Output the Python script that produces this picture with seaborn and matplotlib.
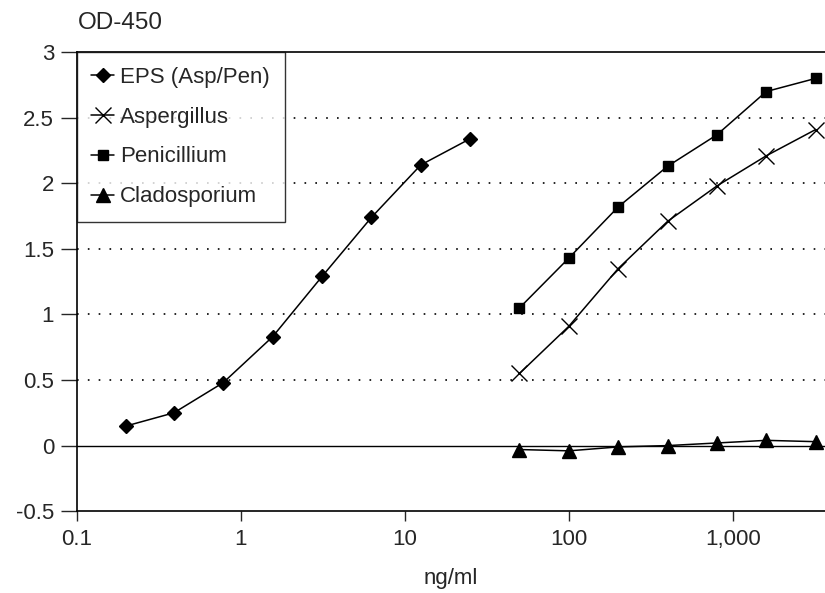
import numpy as np
import pandas as pd
import matplotlib
matplotlib.use('Agg')
import matplotlib.pyplot as plt
import seaborn as sns

# 数据 (OD-450 读数)
eps_conc = [0.2, 0.39, 0.78, 1.56, 3.125, 6.25, 12.5, 25]
eps_od = [0.15, 0.25, 0.48, 0.83, 1.29, 1.74, 2.14, 2.34]

fungi_conc = [50, 100, 200, 400, 800, 1600, 3200]
asp_od = [0.55, 0.91, 1.35, 1.71, 1.98, 2.21, 2.41]
pen_od = [1.05, 1.43, 1.82, 2.13, 2.37, 2.70, 2.80]
cla_od = [-0.03, -0.04, -0.01, 0.00, 0.02, 0.04, 0.03]

series_names = ['EPS (Asp/Pen)', 'Aspergillus', 'Penicillium', 'Cladosporium']
x_ticks = [0.1, 1, 10, 100, 1000]
x_labels = ['0.1', '1', '10', '100', '1,000']
y_ticks = [-0.5, 0, 0.5, 1, 1.5, 2, 2.5, 3]
y_labels = ['-0.5', '0', '0.5', '1', '1.5', '2', '2.5', '3']

sns.set_style('white')
plt.rcParams['font.family'] = ['Liberation Sans', 'DejaVu Sans']

fig = plt.figure(figsize=(8.25, 5.93), dpi=100)
ax = fig.add_axes([0.0933, 0.138, 0.9067, 0.774])

# 网格线
for yv in [0.5, 1, 1.5, 2, 2.5]:
    ax.axhline(yv, color='black', lw=1.2, ls=(0, (1, 5.5)), zorder=0)
ax.axhline(0, color='black', lw=1.0, zorder=1)

series = [
    (eps_conc, eps_od, 'D', 7.5),
    (fungi_conc, asp_od, 'x', 11),
    (fungi_conc, pen_od, 's', 7.5),
    (fungi_conc, cla_od, '^', 10),
]
for name, (xs, ys, mk, ms) in zip(series_names, series):
    d = pd.DataFrame({'conc': xs, 'od': ys})
    sns.lineplot(data=d, x='conc', y='od', color='black', marker=mk,
                 markersize=ms, markeredgewidth=1.0, markeredgecolor='black',
                 lw=1.1, sort=False, label=name, ax=ax)

ax.set_xscale('log')
ax.set_xlim(0.1, 3650)
ax.set_ylim(-0.5, 3)
ax.set_xticks(x_ticks)
ax.set_xticklabels(x_labels)
ax.minorticks_off()
ax.set_yticks(y_ticks)
ax.set_yticklabels(y_labels)
ax.tick_params(axis='y', direction='out', length=11.5, width=1, labelsize=16, pad=5, left=True)
ax.tick_params(axis='x', direction='out', length=7, width=1, labelsize=16, pad=5.5, bottom=True)

for s in ['left', 'bottom', 'top']:
    ax.spines[s].set_visible(True)
    ax.spines[s].set_color('black')
    ax.spines[s].set_linewidth(1.2)
ax.spines['right'].set_visible(False)

ax.set_xlabel('ng/ml', fontsize=16, labelpad=13)
ax.set_ylabel('')
fig.text(0.0945, 0.962, 'OD-450', fontsize=17.5, ha='left', va='center')

leg = ax.legend(loc='upper left', bbox_to_anchor=(0, 1),
                borderaxespad=0, frameon=True, fancybox=False, fontsize=16,
                handlelength=1.0, handletextpad=0.3, labelspacing=0.85,
                borderpad=0.65)
leg.get_frame().set_edgecolor('black')
leg.get_frame().set_linewidth(1.0)

fig.savefig('out.png', dpi=100, facecolor='white')
